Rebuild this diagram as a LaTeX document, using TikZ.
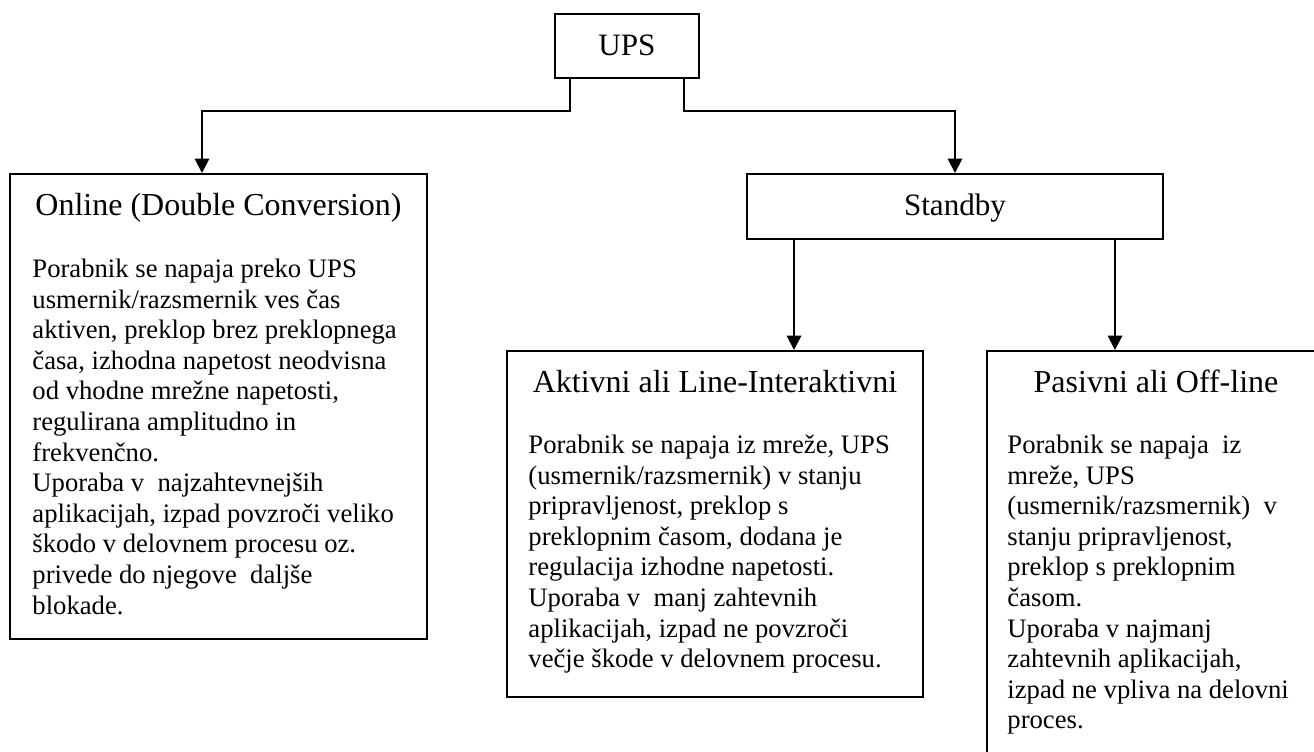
\documentclass[tikz,border=0pt]{standalone}
\usepackage{fontspec}
\setmainfont{Liberation Serif}
\usetikzlibrary{arrows.meta,fit}
\newcommand{\firstline}{\rule{0pt}{10pt}}
\begin{document}
\begin{tikzpicture}[x=0.45pt,y=-0.45pt,
  box/.style={draw, line width=0.9pt, inner sep=0pt},
  ttl/.style={font=\fontsize{14}{16}\selectfont, anchor=base, inner sep=0pt},
  boxttl/.style={font=\fontsize{14.4}{16}\selectfont, anchor=base, inner sep=0pt},
  bodytext/.style={font=\fontsize{12}{13.77}\selectfont, anchor=north west, align=left, inner sep=0pt},
  conn/.style={line width=0.9pt, -{Triangle[width=6.5pt,length=6.5pt]}},
]
\useasboundingbox (0,0) rectangle (1314,751);
\clip (0,0) rectangle (1314,751);
\fill[white] (0,0) rectangle (1314,751);

% boxes
\node[box, fit={(555,14) (699,78)}] (ups) {};
\node[box, fit={(747,174) (1163,239)}] (standby) {};
\node[box, fit={(10,174) (427,639)}] (online) {};
\node[box, fit={(507,351) (923,697)}] (aktivni) {};
\node[box, fit={(987,351) (1330,800)}] (pasivni) {};

% titles
\node[ttl] (upst) at (627,55) {UPS};
\node[ttl] (standbyt) at (955,215) {Standby};
\node[boxttl] (onlinet) at (218.5,215) {Online (Double Conversion)};
\node[boxttl] (aktivnit) at (715,392) {Aktivni ali Line-Interaktivni};
\node[boxttl] (pasivnit) at (1156,392) {Pasivni ali Off-line};

% bodies (first baseline = y + 22.2)
\node[bodytext] (onlineb) at (32,254.8) {\firstline Porabnik se napaja preko UPS\\
usmernik/razsmernik ves čas\\
aktiven, preklop brez preklopnega\\
časa, izhodna napetost neodvisna\\
od vhodne mrežne napetosti,\\
regulirana amplitudno in\\
frekvenčno.\\
Uporaba v~ najzahtevnejših\\
aplikacijah, izpad povzroči veliko\\
škodo v delovnem procesu oz.\\
privede do njegove~ daljše\\
blokade.};

\node[bodytext] (aktivnib) at (528,430.8) {\firstline Porabnik se napaja iz mreže, UPS\\
(usmernik/razsmernik) v stanju\\
pripravljenost, preklop s\\
preklopnim časom, dodana je\\
regulacija izhodne napetosti.\\
Uporaba v~ manj zahtevnih\\
aplikacijah, izpad ne povzroči\\
večje škode v delovnem procesu.};

\node[bodytext] (pasivnib) at (1007,430.8) {\firstline Porabnik se napaja~ iz\\
mreže, UPS\\
(usmernik/razsmernik)~ v\\
stanju pripravljenost,\\
preklop s preklopnim\\
časom.\\
Uporaba v najmanj\\
zahtevnih aplikacijah,\\
izpad ne vpliva na delovni\\
proces.};

% connectors
\coordinate (uL) at ([xshift=7.2pt]ups.south west);
\coordinate (uR) at ([xshift=-7.2pt]ups.south east);
\coordinate (oIn) at ([xshift=86.85pt]online.north west);
\coordinate (sIn) at ([xshift=94.05pt]standby.north west);
\coordinate (s1) at ([xshift=21.6pt]standby.south west);
\coordinate (s2) at ([xshift=166.05pt]standby.south west);

\draw[conn] (uL) -- ++(0,32) -| (oIn);
\draw[conn] (uR) -- ++(0,32) -| (sIn);
\draw[conn] (s1) -- (s1 |- aktivni.north);
\draw[conn] (s2) -- (s2 |- pasivni.north);
\end{tikzpicture}
\end{document}
